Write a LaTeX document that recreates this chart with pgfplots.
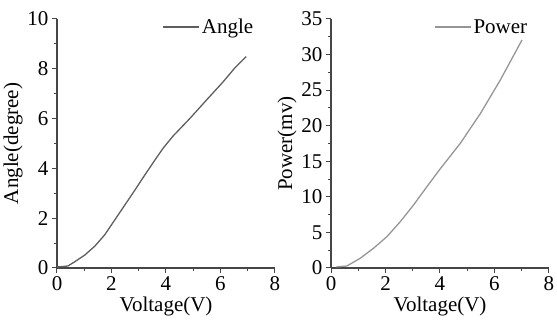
\documentclass[border=0pt]{standalone}
\usepackage{pgfplots}
\pgfplotsset{compat=1.18}
\usepackage{fontspec}
\setmainfont{Liberation Serif}
\definecolor{axc}{RGB}{70,70,70}
\definecolor{angc}{RGB}{95,95,95}
\definecolor{powc}{RGB}{150,150,150}
\pgfplotsset{
  myax/.style={
    scale only axis, width=218pt, height=249pt,
    axis lines*=left,
    axis line style={axc, line width=1.1pt},
    every tick/.style={axc, line width=1pt},
    tick align=outside,
    major tick length=5pt, minor tick length=3pt,
    xmin=0, xmax=8, xtick={0,2,4,6,8}, minor x tick num=1,
    tick label style={font=\fontsize{21}{23}\selectfont},
    label style={font=\fontsize{21}{23}\selectfont},
    /pgf/number format/assume math mode=true,
    xlabel={Voltage(V)},
    xlabel style={yshift=1pt},
    ylabel style={yshift=-2pt},
    legend style={draw=none, fill=none, inner sep=0pt, anchor=east, at={(0.91,0.968)},
      font=\fontsize{21}{23}\selectfont, legend cell align=left},
    legend image code/.code={\draw[#1] (0pt,0pt) -- (36pt,0pt);},
    clip=false,
  }
}
\begin{document}
\begin{tikzpicture}
\useasboundingbox (-57pt,-52pt) rectangle (500pt,268pt);
\begin{axis}[myax, ymin=0, ymax=10, ytick={0,2,4,6,8,10}, minor y tick num=1,
  ylabel={Angle(degree)}]
\addplot[angc, line width=1.3pt] coordinates {
(0,0.04) (0.1,0.05) (0.4,0.08) (0.65,0.25) (1.02,0.52) (1.39,0.88) (1.75,1.33)
(2.12,1.93) (2.49,2.53) (2.86,3.13) (3.22,3.73) (3.59,4.33) (3.9,4.82)
(4.26,5.3) (4.88,6.01) (5.49,6.75) (6.1,7.48) (6.53,8.04) (6.94,8.49)};
\legend{Angle}
\end{axis}
\begin{axis}[myax, xshift=274pt, ymin=0, ymax=35, ytick={0,5,...,35}, minor y tick num=1,
  ylabel={Power(mv)}]
\addplot[powc, line width=1.3pt] coordinates {
(0.2,0.15) (0.27,0.18) (0.58,0.28) (1.07,1.36) (1.56,2.77) (2.05,4.4) (2.54,6.5)
(3.03,8.86) (3.52,11.43) (4.0,13.9) (4.74,17.5) (5.48,21.7) (6.21,26.4) (7.01,32.05)};
\legend{Power}
\end{axis}
\end{tikzpicture}
\end{document}
